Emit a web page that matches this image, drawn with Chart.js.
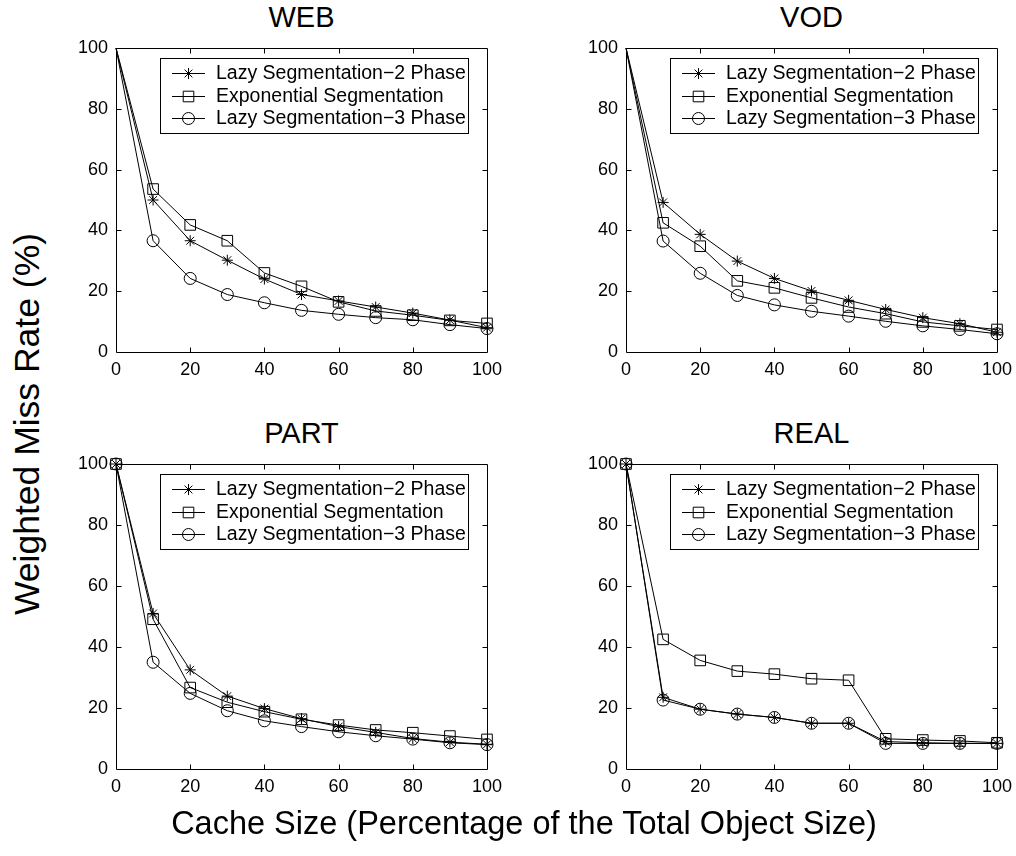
<!DOCTYPE html>
<html><head><meta charset="utf-8">
<script src="https://cdn.jsdelivr.net/npm/chart.js@4.4.1/dist/chart.umd.min.js"></script>
<style>
html,body{margin:0;padding:0;background:#fff;}
body{width:1016px;height:856px;position:relative;overflow:hidden;font-family:"Liberation Sans",Arial,Helvetica,sans-serif;color:#000;}
.panel{position:absolute;}
.panel canvas{display:block;}
.title{position:absolute;font-size:29px;line-height:1;transform:translateX(-50%);white-space:nowrap;}
.xlabel{position:absolute;font-size:32.5px;line-height:1;white-space:nowrap;transform:translate(-50%,-50%);}
.ylabel{position:absolute;font-size:35.5px;line-height:1;white-space:nowrap;transform:translate(-50%,-50%) rotate(-90deg);}
</style>
</head><body>
<script>
// ---------- data ----------
const cacheSizes = [0, 10, 20, 30, 40, 50, 60, 70, 80, 90, 100];
const axisTicks = [0, 20, 40, 60, 80, 100];
const seriesNames = ['Lazy Segmentation\u22122 Phase', 'Exponential Segmentation', 'Lazy Segmentation\u22123 Phase'];
const panelTitles = ['WEB', 'VOD', 'PART', 'REAL'];
const xAxisTitle = 'Cache Size (Percentage of the Total Object Size)';
const yAxisTitle = 'Weighted Miss Rate (%)';

const webLazy2 = [100, 50.0, 36.6, 30.2, 24.0, 18.9, 16.8, 14.8, 12.8, 10.5, 8.0];
const webExp   = [100, 53.6, 41.8, 36.6, 26.0, 21.6, 16.5, 13.5, 12.1, 10.4, 9.4];
const webLazy3 = [100, 36.6, 24.2, 18.9, 16.2, 13.7, 12.4, 11.3, 10.6, 9.0, 7.7];

const vodLazy2 = [100, 49.2, 38.7, 29.9, 24.2, 20.1, 17.0, 14.0, 11.3, 9.3, 6.5];
const vodExp   = [100, 42.5, 34.8, 23.4, 21.1, 17.8, 14.8, 12.6, 9.9, 8.6, 7.4];
const vodLazy3 = [100, 36.5, 25.9, 18.6, 15.5, 13.4, 11.8, 10.1, 8.6, 7.4, 6.0];

const partLazy2 = [100, 51.0, 32.5, 23.9, 19.8, 16.5, 13.9, 12.0, 10.0, 8.8, 8.1];
const partExp   = [100, 49.1, 26.7, 21.9, 18.8, 16.3, 14.4, 12.8, 11.9, 10.8, 9.7];
const partLazy3 = [100, 35.0, 24.8, 19.1, 15.8, 13.9, 12.2, 10.9, 9.8, 8.6, 8.0];

const realLazy2 = [100, 23.5, 19.6, 18.0, 16.9, 15.0, 15.0, 9.0, 8.6, 8.4, 8.4];
const realExp   = [100, 42.5, 35.6, 32.1, 31.1, 29.6, 29.1, 9.9, 9.5, 9.2, 8.6];
const realLazy3 = [100, 22.6, 19.6, 18.0, 16.9, 15.0, 15.0, 8.4, 8.4, 8.4, 8.4];

const panelSeries = [
  [webLazy2, webExp, webLazy3],
  [vodLazy2, vodExp, vodLazy3],
  [partLazy2, partExp, partLazy3],
  [realLazy2, realExp, realLazy3]
];
const markFirstPoint = [false, false, true, true];

// ---------- layout / style ----------
const FONT = "'Liberation Sans', Arial, Helvetica, sans-serif";
const panelBoxes = [
  {L:116, T:48,  W:371, H:304},
  {L:626, T:48,  W:371, H:304},
  {L:116, T:464, W:371, H:305},
  {L:626, T:464, W:371, H:305}
];
const PAD_L = 60, PAD_T = 10, PAD_R = 20, PAD_B = 40;
const markerStyles = [
  {pointStyle:'star', radius:5.5},
  {pointStyle:'rect', radius:7.5},
  {pointStyle:'circle', radius:6}
];

Chart.defaults.font.family = FONT;
Chart.defaults.color = '#000';

const framePlugin = {
  id: 'frame',
  afterDraw(chart) {
    const ctx = chart.ctx, a = chart.chartArea;
    const l = Math.round(a.left) + 0.5, r = Math.round(a.right) + 0.5;
    const t = Math.round(a.top) + 0.5, b = Math.round(a.bottom) + 0.5;
    ctx.save();
    ctx.strokeStyle = '#000';
    ctx.lineWidth = 1;
    ctx.beginPath();
    ctx.rect(l, t, r - l, b - t);
    const tl = 5;
    chart.scales.x.ticks.forEach(tk => {
      if (tk.value <= 0 || tk.value >= 100) return;
      const x = Math.round(chart.scales.x.getPixelForValue(tk.value)) + 0.5;
      ctx.moveTo(x, b); ctx.lineTo(x, b - tl);
      ctx.moveTo(x, t); ctx.lineTo(x, t + tl);
    });
    chart.scales.y.ticks.forEach(tk => {
      if (tk.value <= 0 || tk.value >= 100) return;
      const y = Math.round(chart.scales.y.getPixelForValue(tk.value)) + 0.5;
      ctx.moveTo(l, y); ctx.lineTo(l + tl, y);
      ctx.moveTo(r, y); ctx.lineTo(r - tl, y);
    });
    ctx.stroke();
    ctx.restore();
  }
};

const boxLegendPlugin = {
  id: 'boxLegend',
  afterDraw(chart) {
    const ctx = chart.ctx, a = chart.chartArea;
    const lx = Math.round(a.left) + 44, ly = Math.round(a.top) + 10, lw = 308, lh = 75;
    ctx.save();
    ctx.fillStyle = '#fff';
    ctx.fillRect(lx, ly, lw, lh);
    ctx.strokeStyle = '#000';
    ctx.lineWidth = 1;
    ctx.strokeRect(lx + 0.5, ly + 0.5, lw, lh);
    const rows = [15, 37.5, 60];
    chart.data.datasets.forEach((ds, i) => {
      const ry = Math.round(ly + rows[i]) + 0.5;
      ctx.strokeStyle = '#000';
      ctx.lineWidth = 1;
      ctx.beginPath();
      ctx.moveTo(lx + 12, ry); ctx.lineTo(lx + 45, ry);
      ctx.stroke();
      ctx.fillStyle = 'rgba(0,0,0,0)';
      Chart.helpers.drawPoint(ctx, {pointStyle: ds.pointStyle, radius: ds.legendRadius, borderWidth: 1, rotation: 0}, lx + 28.5, ry);
      ctx.fillStyle = '#000';
      ctx.font = '19.5px ' + FONT;
      ctx.textBaseline = 'middle';
      ctx.textAlign = 'left';
      ctx.fillText(ds.label, lx + 56, ry);
    });
    ctx.restore();
  }
};

panelBoxes.forEach((box, p) => {
  const div = document.createElement('div');
  div.className = 'panel';
  div.style.left = (box.L - PAD_L) + 'px';
  div.style.top = (box.T - PAD_T) + 'px';
  const cv = document.createElement('canvas');
  cv.width = box.W + PAD_L + PAD_R;
  cv.height = box.H + PAD_T + PAD_B;
  cv.style.width = cv.width + 'px';
  cv.style.height = cv.height + 'px';
  div.appendChild(cv);
  document.body.appendChild(div);

  const t = document.createElement('div');
  t.className = 'title';
  t.textContent = panelTitles[p];
  t.style.left = (box.L + box.W / 2) + 'px';
  t.style.top = (box.T - 45.5) + 'px';
  document.body.appendChild(t);

  const datasets = panelSeries[p].map((vals, s) => ({
    label: seriesNames[s],
    data: vals.map((v, i) => ({x: cacheSizes[i], y: v})),
    borderColor: '#000',
    borderWidth: 1,
    backgroundColor: 'rgba(0,0,0,0)',
    pointStyle: markerStyles[s].pointStyle,
    legendRadius: markerStyles[s].radius,
    pointRadius: (c) => (c.dataIndex === 0 && !markFirstPoint[p]) ? 0 : markerStyles[s].radius,
    pointBorderColor: '#000',
    pointBackgroundColor: 'rgba(0,0,0,0)',
    pointBorderWidth: 1,
    pointHoverRadius: 0,
    tension: 0,
    fill: false,
    clip: false
  }));

  new Chart(cv, {
    type: 'line',
    data: {datasets},
    options: {
      responsive: false,
      maintainAspectRatio: false,
      animation: false,
      devicePixelRatio: 1,
      events: [],
      layout: {padding: {top: PAD_T, right: PAD_R, left: 0, bottom: 0}},
      plugins: {legend: {display: false}, title: {display: false}, tooltip: {enabled: false}},
      scales: {
        x: {
          type: 'linear', min: 0, max: 100,
          afterBuildTicks(s) { s.ticks = axisTicks.map(v => ({value: v})); },
          ticks: {color: '#000', font: {size: 18, family: FONT}, padding: 7, maxRotation: 0, autoSkip: false},
          grid: {display: false, drawTicks: false},
          border: {display: false},
          afterFit(s) { s.height = PAD_B; s.paddingLeft = 0; s.paddingRight = 0; }
        },
        y: {
          type: 'linear', min: 0, max: 100,
          afterBuildTicks(s) { s.ticks = axisTicks.map(v => ({value: v})); },
          ticks: {color: '#000', font: {size: 18, family: FONT}, padding: 8, autoSkip: false},
          grid: {display: false, drawTicks: false},
          border: {display: false},
          afterFit(s) { s.width = PAD_L; s.paddingTop = 0; s.paddingBottom = 0; }
        }
      }
    },
    plugins: [framePlugin, boxLegendPlugin]
  });
});

const xl = document.createElement('div');
xl.className = 'xlabel';
xl.textContent = xAxisTitle;
xl.style.left = '524px';
xl.style.top = '823px';
document.body.appendChild(xl);

const yl = document.createElement('div');
yl.className = 'ylabel';
yl.textContent = yAxisTitle;
yl.style.left = '28px';
yl.style.top = '424px';
document.body.appendChild(yl);
</script>
</body></html>
